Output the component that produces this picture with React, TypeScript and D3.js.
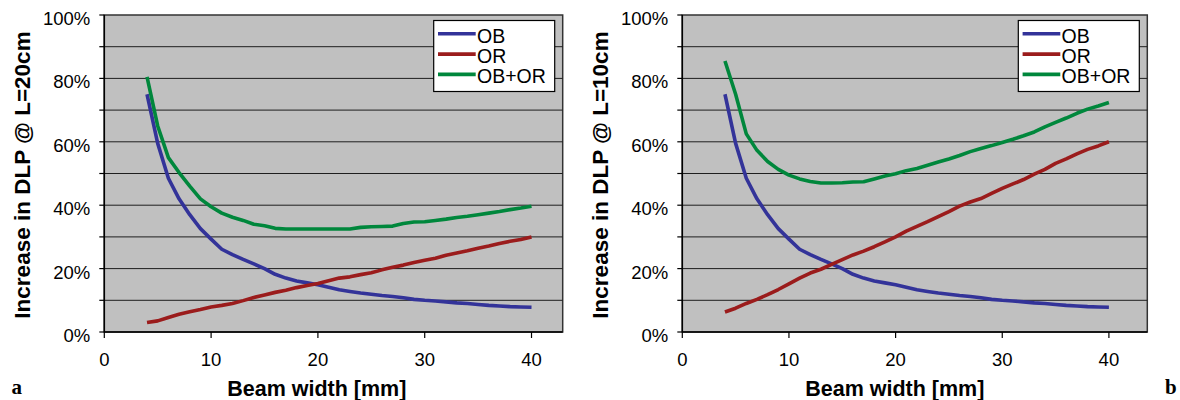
import React from 'react';
import * as d3 from 'd3';

// beam width [mm]
const beamWidth = [4, 5, 6, 7, 8, 9, 10, 11, 12, 13, 14, 15, 16, 17, 18, 19, 20, 21, 22, 23, 24, 25, 26, 27, 28, 29, 30, 31, 32, 33, 34, 35, 36, 37, 38, 39, 40];

// increase in DLP [%]
const obPct = [75, 59.5, 48.5, 42, 37, 32.6, 29.3, 26.1, 24.4, 22.9, 21.5, 20.0, 18.2, 17.0, 16.1, 15.5, 14.9, 14.1, 13.3, 12.8, 12.3, 11.9, 11.5, 11.2, 10.8, 10.3, 10.0, 9.8, 9.5, 9.2, 9.0, 8.7, 8.4, 8.2, 8.0, 7.9, 7.8];
const orPct20 = [3.0, 3.5, 4.6, 5.6, 6.4, 7.1, 7.9, 8.4, 9.0, 9.9, 10.9, 11.7, 12.5, 13.2, 14.0, 14.7, 15.3, 16.2, 17.0, 17.4, 18.1, 18.7, 19.6, 20.4, 21.1, 21.9, 22.6, 23.3, 24.2, 24.9, 25.6, 26.4, 27.1, 27.9, 28.6, 29.2, 30.0];
const sumPct20 = [80.5, 65, 55, 50.3, 46, 42, 39.5, 37.5, 36.2, 35.2, 34.0, 33.5, 32.7, 32.5, 32.5, 32.5, 32.5, 32.5, 32.5, 32.5, 33.0, 33.2, 33.3, 33.4, 34.2, 34.7, 34.8, 35.2, 35.6, 36.1, 36.5, 37.0, 37.5, 38.0, 38.6, 39.1, 39.7];
const orPct10 = [6.3, 7.5, 9.0, 10.3, 11.8, 13.4, 15.2, 17.0, 18.6, 19.8, 21.3, 22.8, 24.3, 25.5, 26.9, 28.4, 30.0, 31.8, 33.3, 34.8, 36.4, 38.0, 39.7, 41.0, 42.1, 43.7, 45.3, 46.7, 48.1, 49.8, 51.3, 53.2, 54.6, 56.2, 57.6, 58.7, 60.0];
const sumPct10 = [85.5, 75, 62.5, 57.3, 53.8, 51.3, 49.5, 48.3, 47.5, 47.0, 47.0, 47.1, 47.3, 47.4, 48.3, 49.2, 49.9, 50.9, 51.6, 52.6, 53.6, 54.6, 55.7, 56.9, 57.9, 58.8, 59.8, 60.8, 61.9, 63.1, 64.7, 66.1, 67.5, 69.0, 70.3, 71.3, 72.4];

const seriesNames = ['OB', 'OR', 'OB+OR'];
const seriesColors = ['#333399', '#9b1c1c', '#00873c'];

const yTicks = [0, 10, 20, 30, 40, 50, 60, 70, 80, 90, 100];
const yLabels = [0, 20, 40, 60, 80, 100];
const xTicks = [0, 10, 20, 30, 40];

const sans = '"Liberation Sans", Arial, sans-serif';

const Panel = ({ x0, x1, xMax, yTitle, series, letter, letterX }) => {
  const top = 15;
  const bottom = 332;
  const x = d3.scaleLinear().domain([0, xMax]).range([x0, x1]);
  const y = d3.scaleLinear().domain([0, 100]).range([bottom, top]);
  const line = d3.line().x((d, i) => x(beamWidth[i])).y(d => y(d));

  const legW = 121;
  const legX = x1 - 8 - legW;
  const legY = 20.5;

  return (
    <g>
      <rect x={x0} y={top} width={x1 - x0} height={bottom - top} fill="#c0c0c0" stroke="#333" strokeWidth={1.5} />
      {yTicks.filter(t => t > 0 && t < 100).map(t => (
        <line key={'g' + t} x1={x0} x2={x1} y1={y(t)} y2={y(t)} stroke="#1e1e1e" strokeWidth={1} />
      ))}
      {series.map((s, i) => (
        <path key={'s' + i} d={line(s)} fill="none" stroke={seriesColors[i]} strokeWidth={3.6} strokeLinejoin="round" />
      ))}
      {/* axes */}
      <line x1={x0} x2={x0} y1={top} y2={bottom} stroke="#000" strokeWidth={1.5} />
      <line x1={x0} x2={x1} y1={bottom} y2={bottom} stroke="#000" strokeWidth={1.5} />
      {yTicks.map(t => (
        <line key={'yt' + t} x1={x0 - 5} x2={x0} y1={y(t)} y2={y(t)} stroke="#000" strokeWidth={1.2} />
      ))}
      {yLabels.map(t => (
        <text key={'yl' + t} x={x0 - 14} y={y(t) + 10} textAnchor="end" fontSize={18.5} fontFamily={sans}>{t + '%'}</text>
      ))}
      {xTicks.map(t => (
        <g key={'xt' + t}>
          <line x1={x(t)} x2={x(t)} y1={bottom} y2={bottom + 6} stroke="#000" strokeWidth={1.2} />
          <text x={x(t)} y={bottom + 33.5} textAnchor="middle" fontSize={18.5} fontFamily={sans}>{t}</text>
        </g>
      ))}
      <text x={x0 + 212.5} y={395.5} textAnchor="middle" fontSize={21.5} fontWeight="bold" fontFamily={sans}>Beam width [mm]</text>
      <text transform={`translate(${x0 - 82},175) rotate(-90)`} dy="0.35em" textAnchor="middle" fontSize={22.5} fontWeight="bold" fontFamily={sans}>{yTitle}</text>
      {/* legend */}
      <rect x={legX} y={legY} width={legW} height={71} fill="#fff" stroke="#000" strokeWidth={1.2} />
      {seriesNames.map((n, i) => {
        const ly = legY + 13.3 + i * 20.3;
        return (
          <g key={'lg' + n}>
            <line x1={legX + 4.3} x2={legX + 42} y1={ly} y2={ly} stroke={seriesColors[i]} strokeWidth={3.6} />
            <text x={legX + 43.3} y={ly + 9} fontSize={19.5} fontFamily={sans}>{n}</text>
          </g>
        );
      })}
      <text x={letterX} y={394} fontSize={21} fontWeight="bold" fontFamily='"Liberation Serif", "Times New Roman", serif'>{letter}</text>
    </g>
  );
};

export default function App() {
  return (
    <svg width={1180} height={400} style={{ position: 'absolute', left: 0, top: 0, background: '#fff' }}>
      <Panel x0={104.3} x1={562.7} xMax={42.92} yTitle="Increase in DLP @ L=20cm"
        series={[obPct, orPct20, sumPct20]} letter="a" letterX={11.5} />
      <Panel x0={682.3} x1={1147.3} xMax={43.6} yTitle="Increase in DLP @ L=10cm"
        series={[obPct, orPct10, sumPct10]} letter="b" letterX={1165} />
    </svg>
  );
}
